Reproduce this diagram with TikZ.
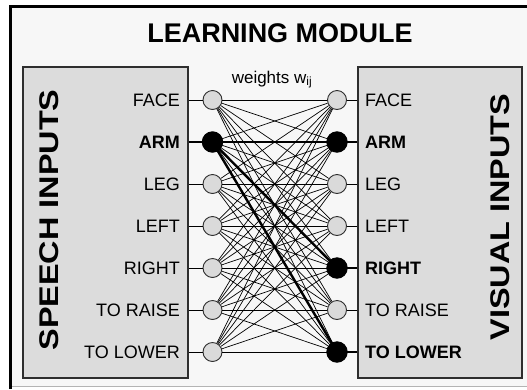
\documentclass[tikz,border=0pt]{standalone}
\usepackage{fontspec}
\setmainfont{Liberation Sans}
\usepackage{graphicx}
\definecolor{bgpanel}{HTML}{F7F7F7}
\definecolor{boxfill}{HTML}{DCDCDC}
\definecolor{boxline}{HTML}{2E2E2E}
\definecolor{circfill}{HTML}{DADADA}
\definecolor{frameg}{HTML}{B4B4B4}
\begin{document}
\begin{tikzpicture}[x=1pt,y=-1pt,
  inbox/.style={draw=boxline, fill=boxfill, line width=1.2pt, inner sep=0pt},
  unit/.style={circle, draw=boxline, fill=circfill, line width=0.9pt, minimum size=19pt, inner sep=0pt},
  active/.style={unit, fill=black, draw=black, minimum size=20.5pt},
  wire/.style={line width=0.7pt, black},
  strong/.style={line width=2.4pt, black},
  lab/.style={font=\fontsize{18}{18}\selectfont, inner sep=0pt},
  blab/.style={lab, font=\bfseries\fontsize{18}{18}\selectfont},
  side/.style={font=\bfseries\fontsize{27}{28}\selectfont, inner sep=0pt, rotate=90},
]
\useasboundingbox (0,0) rectangle (527,389);
\fill[white] (0,0) rectangle (527,389);
% outer panel
\fill[bgpanel] (11,6) rectangle (527,386);
\draw[frameg, line width=1pt] (11,386) -- (527,386);
\draw[black, line width=3pt] (10.5,389) -- (10.5,6) -- (527,6);

% title and weights
\node[font=\bfseries\fontsize{27}{27}\selectfont, inner sep=0pt] (title) at (280,33) {LEARNING MODULE};
\node[font=\fontsize{17}{17}\selectfont, inner sep=0pt, anchor=base] (wlabel) at (272,83) {weights w\textsubscript{ij}};

% input boxes
\node[inbox, minimum width=165pt, minimum height=311pt] (lbox) at (105.5,222.5) {};
\node[inbox, minimum width=164pt, minimum height=311pt] (rbox) at (440,222.5) {};
\node[side] (ltext) at (49.5,220) {\scalebox{1.2}[1]{SPEECH INPUTS}};
\node[side] (rtext) at (500,217) {\scalebox{1.2}[1]{VISUAL INPUTS}};

% units
\foreach \i/\y in {1/100,2/142,3/184,4/226,5/268,6/310,7/352}{
  \node[unit] (L\i) at (212.5,\y) {};
  \node[unit] (R\i) at (337,\y) {};
}
\node[active] at (L2) {};
\node[active] at (R2) {};
\node[active] at (R5) {};
\node[active] at (R7) {};

% all weights
\foreach \i in {1,...,7}{
  \foreach \j in {1,...,7}{
    \draw[wire] (L\i) -- (R\j);
  }
}
\draw[strong] (L2) -- (R2);
\draw[strong] (L2) -- (R5);
\draw[strong] (L2) -- (R7);

% stubs
\foreach \i in {1,3,4,5,6,7}{
  \draw[wire] (lbox.east |- L\i) -- (L\i);
}
\foreach \i in {1,3,4,6}{
  \draw[wire] (rbox.west |- R\i) -- (R\i);
}
\draw[strong] (lbox.east |- L2) -- (L2);
\foreach \i in {2,5,7}{
  \draw[strong] (rbox.west |- R\i) -- (R\i);
}

% labels
\node[lab, anchor=east] (l1) at (180,100) {FACE};
\node[blab, anchor=east] (l2) at (180,142) {ARM};
\node[lab, anchor=east] (l3) at (180,184) {LEG};
\node[lab, anchor=east] (l4) at (180,226) {LEFT};
\node[lab, anchor=east] (l5) at (180,268) {RIGHT};
\node[lab, anchor=east] (l6) at (180,310) {TO RAISE};
\node[lab, anchor=east] (l7) at (180,352) {TO LOWER};
\node[lab, anchor=west] (r1) at (365,100) {FACE};
\node[blab, anchor=west] (r2) at (365,142) {ARM};
\node[lab, anchor=west] (r3) at (365,184) {LEG};
\node[lab, anchor=west] (r4) at (365,226) {LEFT};
\node[blab, anchor=west] (r5) at (365,268) {RIGHT};
\node[lab, anchor=west] (r6) at (365,310) {TO RAISE};
\node[blab, anchor=west] (r7) at (365,352) {TO LOWER};
\end{tikzpicture}
\end{document}
